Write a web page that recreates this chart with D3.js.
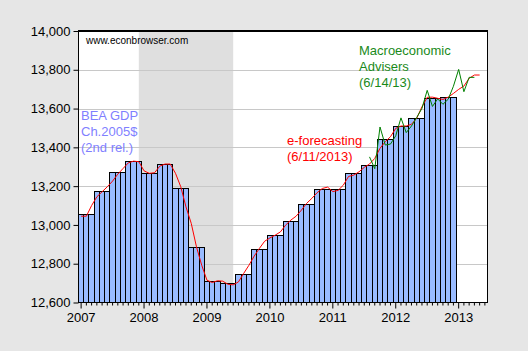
<!DOCTYPE html>
<html lang="en">

<head>
    <meta charset="UTF-8">
    <title>BEA GDP vs monthly GDP estimates</title>
    <style>
        body { margin: 0; background: #e6e6e6; }
        svg { display: block; font-family: 'Liberation Sans', Arial, sans-serif; }
    </style>
</head>

<body>
    <svg id="chart"></svg>

    <script src="https://d3js.org/d3.v7.min.js"></script>
    <script>
        // quarterly BEA GDP, Ch.2005$ (2nd rel.), 2007Q1 .. 2012Q4
        const quarters = ['2007Q1', '2007Q2', '2007Q3', '2007Q4', '2008Q1', '2008Q2', '2008Q3', '2008Q4',
            '2009Q1', '2009Q2', '2009Q3', '2009Q4', '2010Q1', '2010Q2', '2010Q3', '2010Q4',
            '2011Q1', '2011Q2', '2011Q3', '2011Q4', '2012Q1', '2012Q2', '2012Q3', '2012Q4'];
        const beaGdp = [13056, 13173, 13269, 13328, 13266, 13312, 13188, 12884,
            12708, 12698, 12744, 12873, 12946, 13018, 13106, 13183,
            13184, 13266, 13305, 13443, 13510, 13550, 13653, 13658];

        // monthly e-forecasting (6/11/2013), Jan 2007 .. May 2013
        const eForecasting = [13045, 13045, 13100, 13145, 13171, 13197, 13226, 13262, 13291, 13320, 13329, 13326,
            13279, 13266, 13269, 13303, 13314, 13314, 13266, 13197, 13093, 13008, 12887, 12792,
            12715, 12703, 12712, 12710, 12694, 12691, 12706, 12750, 12792, 12839, 12879, 12916,
            12933, 12947, 12964, 12999, 13025, 13045, 13076, 13111, 13137, 13166, 13188, 13195,
            13172, 13178, 13205, 13250, 13257, 13274, 13297, 13314, 13343, 13395, 13429, 13455,
            13498, 13510, 13510, 13519, 13550, 13609, 13658, 13659, 13653, 13647, 13659, 13678,
            13699, 13716, 13756, 13773, 13773];

        // monthly Macroeconomic Advisers (6/14/13), Aug 2011 .. Apr 2013
        const maStart = '2011-08';
        const macroAdvisers = [13351, 13290, 13505, 13412, 13417, 13460, 13552, 13476, 13510, 13554, 13601,
            13694, 13611, 13650, 13622, 13648, 13715, 13802, 13687, 13761, 13761];

        const yTicks = [12600, 12800, 13000, 13200, 13400, 13600, 13800, 14000];
        const yearLabels = ['2007', '2008', '2009', '2010', '2011', '2012', '2013'];
        const recession = ['2007-12', '2009-06'];

        const fmtMonth = d3.timeFormat('%Y-%m');
        const months = d3.timeMonth.range(new Date(2007, 0, 1), new Date(2013, 6, 1)).map(fmtMonth);

        const W = 528, H = 351;
        const svg = d3.select('#chart').attr('width', W).attr('height', H);
        const pLeft = 78.5, pRight = 487.5, pTop = 31, pBottom = 302.5;

        const x = d3.scaleBand().domain(months).range([pLeft, pRight]).padding(0);
        const y = d3.scaleLinear().domain([12600, 14000]).range([pBottom, pTop]);
        const bw = x.bandwidth();
        const cx = m => x(m) + bw / 2;

        svg.append('rect').attr('width', W).attr('height', H).attr('fill', '#e6e6e6');
        svg.append('rect').attr('x', pLeft).attr('y', pTop)
            .attr('width', pRight - pLeft).attr('height', pBottom - pTop).attr('fill', '#fff');

        // recession shading
        svg.append('rect')
            .attr('x', cx(recession[0])).attr('y', pTop)
            .attr('width', cx(recession[1]) - cx(recession[0])).attr('height', pBottom - pTop)
            .attr('fill', '#dfdfdf');

        // gridlines
        svg.append('g').selectAll('line').data(yTicks.slice(1, -1)).join('line')
            .attr('x1', pLeft).attr('x2', pRight)
            .attr('y1', d => Math.round(y(d)) + 0.5).attr('y2', d => Math.round(y(d)) + 0.5)
            .attr('stroke', '#c8c8c8');

        // bars: each quarter drawn over its three months
        const barData = [];
        quarters.forEach((q, i) => {
            const yr = q.slice(0, 4), qn = +q.slice(5);
            for (let k = 1; k <= 3; k++) {
                const mm = String((qn - 1) * 3 + k).padStart(2, '0');
                barData.push({ month: `${yr}-${mm}`, value: beaGdp[i] });
            }
        });
        svg.append('g').selectAll('rect').data(barData).join('rect')
            .attr('x', d => x(d.month))
            .attr('y', d => y(d.value))
            .attr('width', bw)
            .attr('height', d => y(12600) - y(d.value))
            .attr('fill', '#99bbff')
            .attr('stroke', '#000')
            .attr('stroke-width', 1)
            .attr('shape-rendering', 'crispEdges');

        const line = d3.line().x(d => cx(d.month)).y(d => y(d.value));

        const efData = eForecasting.map((v, i) => ({ month: months[i], value: v }));
        svg.append('path').datum(efData).attr('d', line)
            .attr('fill', 'none').attr('stroke', '#ff0000').attr('stroke-width', 1);

        const maIdx = months.indexOf(maStart);
        const maData = macroAdvisers.map((v, i) => ({ month: months[maIdx + i], value: v }));
        svg.append('path').datum(maData).attr('d', line)
            .attr('fill', 'none').attr('stroke', '#008000').attr('stroke-width', 1);

        // frame
        svg.append('rect').attr('x', pLeft).attr('y', pTop)
            .attr('width', pRight - pLeft).attr('height', pBottom - pTop)
            .attr('fill', 'none').attr('stroke', '#000').attr('stroke-width', 1.2)
            .attr('shape-rendering', 'crispEdges');

        // y axis
        const yAxis = d3.axisLeft(y).tickValues(yTicks).tickSize(5).tickPadding(3)
            .tickFormat(d3.format(','));
        const gy = svg.append('g').attr('transform', `translate(${pLeft},0)`).call(yAxis);
        gy.select('.domain').remove();
        gy.selectAll('text').attr('font-size', 13).attr('fill', '#000')
            .attr('font-family', "'Liberation Sans', Arial, sans-serif");
        gy.selectAll('line').attr('stroke', '#000');

        // x axis: month ticks, year labels
        const xAxis = d3.axisBottom(x)
            .tickValues(months)
            .tickSize(3)
            .tickFormat(m => m.endsWith('-01') ? m.slice(0, 4) : '');
        const gx = svg.append('g').attr('transform', `translate(0,${pBottom})`).call(xAxis);
        gx.select('.domain').remove();
        gx.selectAll('.tick line').attr('stroke', '#000')
            .attr('y2', m => yearLabels.includes(m.slice(0, 4)) && m.endsWith('-01') ? 6 : 3);
        gx.selectAll('text').attr('font-size', 13).attr('fill', '#000').attr('y', 10)
            .attr('font-family', "'Liberation Sans', Arial, sans-serif");

        // annotations
        svg.append('text').attr('x', 86).attr('y', 43.5).attr('font-size', 10)
            .attr('fill', '#000').text('www.econbrowser.com');

        const notes = [
            { x: 81, y: 119.5, color: '#7f7fff', lines: ['BEA GDP', 'Ch.2005$', '(2nd rel.)'] },
            { x: 287, y: 144.5, color: '#ff0000', lines: ['e-forecasting', '(6/11/2013)'] },
            { x: 359, y: 54.5, color: '#1a8a1a', lines: ['Macroeconomic', 'Advisers', '(6/14/13)'] },
        ];
        notes.forEach(n => {
            const t = svg.append('text').attr('x', n.x).attr('y', n.y)
                .attr('font-size', 13).attr('fill', n.color);
            n.lines.forEach((s, i) => {
                t.append('tspan').attr('x', n.x).attr('dy', i ? 16 : 0).text(s);
            });
        });
    </script>
</body>

</html>
